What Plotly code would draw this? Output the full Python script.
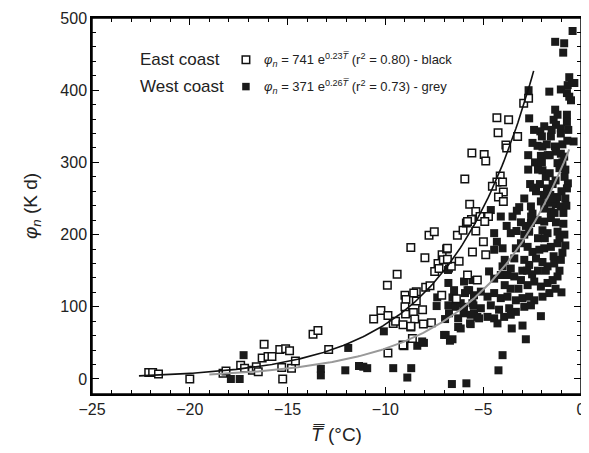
import numpy as np
import plotly.graph_objects as go

# East coast (open squares)
east_T = [-22.1, -21.9, -21.6, -20.0, -18.3, -18.15, -17.4, -17.2, -16.2, -16.3, -16.0, -15.8,
          -16.8, -16.6, -16.5, -15.4, -15.1, -14.9, -15.3, -15.25, -14.8, -14.6, -13.7, -13.45,
          -12.9, -10.6, -10.23, -9.87, -9.6, -9.48, -9.87, -9.9, -9.4, -9.0, -8.95, -8.97,
          -8.7, -8.57, -8.5, -8.42, -8.42, -8.7, -8.62, -9.05, -8.1, -8.06, -7.98, -7.94,
          -7.72, -7.65, -7.77, -7.5, -7.48, -7.31, -7.26, -7.1, -6.87, -7.12, -6.63, -6.37,
          -6.32, -6.03, -5.86, -6.23, -5.8, -5.69, -5.6, -5.55, -5.38, -5.38, -5.94, -5.58,
          -5.3, -5.16, -7.04, -6.83, -9.0, -9.1, -8.55, -8.7, -2.93, -2.68, -4.3, -3.7,
          -4.24, -3.24, -3.84, -3.8, -4.95, -4.87, -4.13, -4.3, -4.01, -4.53, -3.97, -4.22,
          -3.97, -4.73, -5.8, -4.92, -4.99, -4.87, -6.83, -9.1]
east_phi = [9, 9, 7, 0, 8, 11, 19, 15, 48, 29, 31, 31,
            12, 17, 10, 41, 42, 39, 16, 0, 15, 25, 62, 67,
            41, 83, 95, 88, 77, 80, 36, 130, 145, 116, 110, 90,
            182, 92, 83, 108, 121, 72, 56, 46, 96, 76, 168, 127,
            129, 78, 199, 204, 149, 160, 153, 172, 180, 116, 156, 111,
            199, 206, 216, 163, 144, 242, 221, 176, 232, 205, 277, 313,
            137, 225, 165, 166, 100, 75, 119, 73, 382, 389, 362, 359,
            341, 336, 324, 320, 311, 302, 281, 273, 273, 267, 259, 252,
            246, 225, 218, 218, 190, 172, 181, 47]

# West coast (filled squares)
west_T = [-17.25, -17.9, -17.45, -13.3, -13.3, -12.05, -11.9, -11.35, -11.13, -10.93, -10.08,
          -9.6, -8.68, -8.88, -8.37, -8.03, -7.38, -7.0, -6.7, -6.57, -6.28, -6.78, -6.75,
          -6.78, -6.75, -6.95, -6.49, -6.4, -5.98, -5.93, -5.72, -6.0, -5.67, -5.5, -5.47,
          -5.3, -6.6, -5.86,
          -0.43, -1.32, -0.86, -0.91, -0.6, -0.46, -0.68, -0.34, -2.68, -1.62, -1.03, -0.72,
          -0.6, -0.51, -2.65, -1.32, -1.2, -1.4, -1.28, -0.72, -0.72, -1.88, -2.08, -2.0,
          -1.54, -1.03, -1.03, -0.38, -2.48, -2.22, -1.97, -1.33, -1.28, -1.03, -0.86, -2.05,
          -1.2, -1.1, -1.97, -1.8, -0.84, -0.67, -0.72, -1.74, -1.57, -1.2,
          -3.16, -2.56, -2.48, -2.05, -1.88, -1.62, -1.28, -1.03, -4.61, -4.1, -0.9, -1.54,
          -3.28, -3.07, -2.82, -2.56, -2.22, -1.88, -1.54, -1.28, -3.59, -2.65, -1.97, -1.71,
          -1.2, -4.44,
          -3.33, -3.07, -2.73, -2.48, -2.13, -1.88, -1.54, -1.2, -4.01, -4.44,
          -3.41, -2.9, -2.65, -2.3, -1.97, -1.71, -1.37, -1.03, -4.01, -3.59,
          -4.7, -4.44, -4.1, -3.76, -3.41, -5.55,
          -3.07, -2.73, -2.39, -2.05, -1.71, -1.45, -1.2,
          -5.8, -5.47, -5.12, -4.78, -4.44, -4.1, -3.76, -3.33, -2.99, -2.65, -2.39, -1.97, -1.62,
          -5.98, -5.55, -5.12, -4.61, -4.19, -3.67, -3.33, -2.9, -2.56,
          -5.64, -5.21, -4.78, -4.44, -3.93, -3.59,
          -2.05, -6.15, -5.64, -4.27, -3.54, -2.99, -2.82, -4.01, -4.22,
          -6.57, -6.92, -6.8, -7.35, -6.49, -6.4, -6.15, -6.28, -8.12,
          -2.3, -2.6, -1.45, -1.0, -0.8, -2.9, -3.5, -3.8, -4.3, -3.9, -3.0, -2.5,
          -1.8, -1.4, -1.1, -0.9, -0.8, -0.95, -1.6, -1.75, -1.5, -2.35, -2.2,
          -2.0, -1.6, -1.3, -0.95, -2.7, -2.45, -2.1, -1.9, -1.35, -0.75, -0.85, -0.95,
          -1.1, -1.3, -1.0, -2.75, -2.2, -3.2, -3.6, -3.9, -2.2, -2.9, -3.3, -0.7,
          -0.65, -2.4, -1.7, -2.7, -1.45, -0.8, -2.55, -1.85]
west_phi = [33, 0, 0, 14, 5, 12, 43, 18, 17, 15, 66,
            15, 15, 2, 46, 50, 101, 61, 53, 55, 72, 133, 153,
            102, 91, 83, 114, 100, 135, 119, 123, 91, 77, 102, 91,
            86, -7, -6,
            482, 467, 465, 452, 418, 410, 407, 410, 400, 398, 401, 396,
            391, 386, 361, 373, 366, 359, 352, 366, 356, 350, 343, 336,
            336, 347, 340, 329, 327, 323, 322, 322, 315, 312, 308, 309,
            299, 292, 289, 280, 280, 271, 264, 264, 255, 252,
            238, 239, 229, 246, 236, 244, 242, 239, 234, 225, 230, 232,
            233, 217, 212, 216, 220, 218, 223, 217, 202, 204, 206, 202,
            204, 202,
            181, 188, 183, 176, 179, 181, 183, 188, 181, 179,
            167, 165, 158, 167, 162, 156, 160, 165, 156, 153,
            149, 139, 144, 144, 142, 137,
            137, 130, 135, 128, 133, 137, 142,
            123, 116, 121, 114, 119, 112, 114, 109, 112, 114, 109, 114, 119,
            100, 105, 98, 102, 96, 98, 93, 100, 102,
            89, 84, 86, 84, 86, 89,
            87, 70, 76, 77, 70, 74, 55, 33, 12,
            113, 61, 151, 113, 123, 109, 105, 84, 52,
            260, 270, 270, 260, 250, 250, 225, 212, 190, 165, 150, 145,
            150, 170, 195, 215, 290, 325, 310, 325, 345, 300, 290,
            300, 285, 275, 300, 290, 265, 270, 255, 230, 240, 200, 175,
            150, 125, 120, 150, 150, 125, 125, 130, 195, 200, 205, 330,
            345, 345, 310, 310, 250, 185, 225, 195]

# Fitted curves (drawn from the fit equations)
east_fit = dict(a=741, b=0.228, t_start=-22.6, t_end=-2.42)
west_fit = dict(a=362, b=0.215, t_start=-19.0, t_end=-0.6)

FONT = "Liberation Sans, Arial, Helvetica, sans-serif"

fig = go.Figure()

fig.add_trace(go.Scatter(
    x=west_T, y=west_phi, mode="markers",
    marker=dict(symbol="square", size=8, color="#1a1a1a", line=dict(width=0)),
    showlegend=False))

fig.add_trace(go.Scatter(
    x=east_T, y=east_phi, mode="markers",
    marker=dict(symbol="square", size=7.5, color="white", line=dict(width=1.5, color="#111111")),
    showlegend=False))

for fit, col, w in [(west_fit, "#999999", 2.0), (east_fit, "#111111", 1.6)]:
    tt = np.linspace(fit["t_start"], fit["t_end"], 200)
    fig.add_trace(go.Scatter(
        x=tt, y=fit["a"] * np.exp(fit["b"] * tt), mode="lines",
        line=dict(color=col, width=w), showlegend=False, hoverinfo="skip"))

# legend-like labels
legend_rows = [
    ("East coast", "white", 1.5, "<i>φ<sub>n</sub></i> = 741 e<sup>0.23<i>T\u0305</i></sup> (r<sup>2</sup> = 0.80) - black", 442),
    ("West coast", "#1a1a1a", 0, "<i>φ<sub>n</sub></i> = 371 e<sup>0.26<i>T\u0305</i></sup> (r<sup>2</sup> = 0.73) - grey", 405),
]
for name, fill, lw, formula, yv in legend_rows:
    fig.add_annotation(x=-22.65, y=yv, xref="x", yref="y", text=name, showarrow=False,
                       xanchor="left", yanchor="middle", font=dict(size=17, color="#222", family=FONT))
    fig.add_trace(go.Scatter(x=[-17.13], y=[yv], mode="markers",
                             marker=dict(symbol="square", size=7.5, color=fill,
                                         line=dict(width=lw, color="#111")),
                             showlegend=False, hoverinfo="skip"))
    fig.add_annotation(x=-16.3, y=yv, xref="x", yref="y", text=formula, showarrow=False,
                       xanchor="left", yanchor="middle", font=dict(size=13, color="#222", family=FONT))

# frame
fig.add_shape(type="rect", xref="paper", yref="paper", x0=0, x1=1, y0=0, y1=1,
              line=dict(color="black", width=1.5), fillcolor="rgba(0,0,0,0)", layer="above")

axis_common = dict(
    showgrid=False, zeroline=False, showline=True, linecolor="black", linewidth=1.5,
    mirror="allticks", ticks="inside", ticklen=7, tickwidth=1.2, tickcolor="black",
    tickfont=dict(size=16, color="#222", family=FONT), automargin=False,
)

fig.update_xaxes(range=[-25, 0], tick0=-25, dtick=5,
                 minor=dict(dtick=1, ticks="inside", ticklen=4, tickwidth=1, tickcolor="black"),
                 title=dict(text="<i>T\u033F</i> (°C)", font=dict(size=19, color="#222", family=FONT), standoff=11),
                 **axis_common)
fig.update_yaxes(range=[-20.8, 500], tick0=0, dtick=100,
                 minor=dict(dtick=20, ticks="inside", ticklen=4, tickwidth=1, tickcolor="black"),
                 title=dict(text="<i>φ<sub>n</sub></i> (K d)", font=dict(size=19, color="#222", family=FONT), standoff=18),
                 **axis_common)

# the page body adds an 8px offset, so the figure is sized to fit the 589x453 window
fig.update_layout(
    width=581, height=445,
    margin=dict(l=84, r=8, t=10, b=59),
    plot_bgcolor="white", paper_bgcolor="white",
    font=dict(family=FONT),
)

fig.write_html("out.html")
